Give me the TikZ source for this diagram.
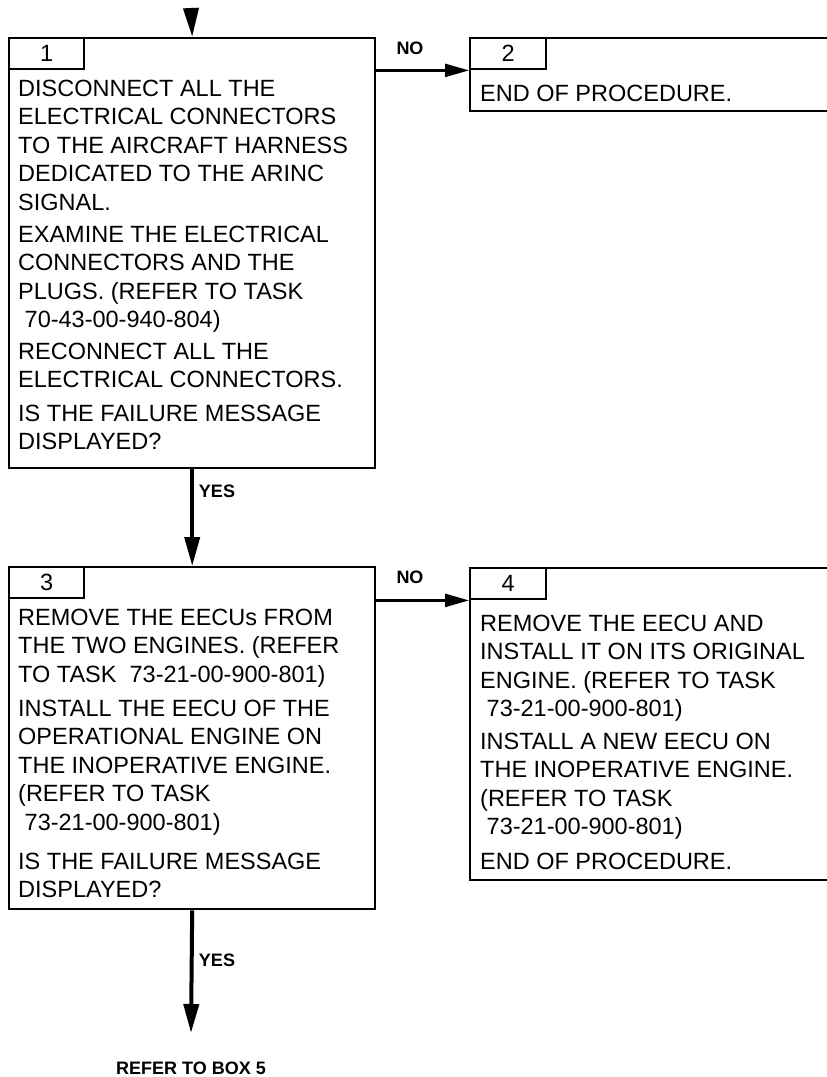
\documentclass[tikz,border=0pt]{standalone}
\usepackage{fontspec}
\setmainfont{Liberation Sans}
\usetikzlibrary{positioning,arrows.meta,calc}

\begin{document}
\begin{tikzpicture}[
  x=1pt, y=-1pt,
  box/.style={draw, line width=2.4pt, anchor=north west, inner sep=0pt},
  tabbox/.style={draw, line width=2.4pt, anchor=north west, inner sep=0pt,
                 minimum width=75pt, minimum height=31pt,
                 font=\fontsize{23.5}{28.5}\selectfont},
  txt/.style={anchor=north west, inner sep=0pt, align=left,
              font=\fontsize{23.5}{28.5}\selectfont},
  lbl/.style={inner sep=0pt, font=\fontsize{18}{20}\selectfont\bfseries},
  arr/.style={-{Triangle[length=29pt, width=15pt]}, line width=4pt},
  noarr/.style={-{Triangle[length=24pt, width=13pt]}, line width=2.4pt}
]
  \clip (0,0) rectangle (827,1077);

  % Box 1 -> Box 2
  \node[box, minimum width=366pt, minimum height=430pt] (box1) at (8,37) {};
  \node[tabbox] (tab1) at (box1.north west) {1};
  \node[txt] (txt1) at (18,79.8) {DISCONNECT ALL THE\\
    ELECTRICAL CONNECTORS\\
    TO THE AIRCRAFT HARNESS\\
    DEDICATED TO THE ARINC\\
    SIGNAL.\\[3.5pt]
    EXAMINE THE ELECTRICAL\\
    CONNECTORS AND THE\\
    PLUGS. (REFER TO TASK\\
    \hspace*{6.5pt}70-43-00-940-804)\\[3pt]
    RECONNECT ALL THE\\
    ELECTRICAL CONNECTORS.\\[5pt]
    IS THE FAILURE MESSAGE\\
    DISPLAYED?};

  \node[box, minimum width=400pt, minimum height=73pt] (box2) at (469,37) {};
  \node[tabbox, minimum width=76pt] (tab2) at (box2.north west) {2};
  \node[txt] (txt2) at (480,84.8) {END OF PROCEDURE.};

  \coordinate (start) at (191,8);
  \draw[arr] (start) -- (box1.north);
  \draw[noarr] (tab2.south west -| box1.east) -- (tab2.south west);
  \node[lbl] (no1) at (410,48) {NO};

  % Box 3 -> Box 4
  \node[box, minimum width=366pt, minimum height=342pt] (box3) at (8,566) {};
  \node[tabbox] (tab3) at (box3.north west) {3};
  \node[txt] (txt3) at (18,608.8) {REMOVE THE EECUs FROM\\
    THE TWO ENGINES. (REFER\\
    TO TASK\ \ 73-21-00-900-801)\\[5.5pt]
    INSTALL THE EECU OF THE\\
    OPERATIONAL ENGINE ON\\
    THE INOPERATIVE ENGINE.\\
    (REFER TO TASK\\
    \hspace*{6.5pt}73-21-00-900-801)\\[10.5pt]
    IS THE FAILURE MESSAGE\\
    DISPLAYED?};

  \node[box, minimum width=400pt, minimum height=312pt] (box4) at (469,567) {};
  \node[tabbox, minimum width=76pt] (tab4) at (box4.north west) {4};
  \node[txt] (txt4) at (480,614.8) {REMOVE THE EECU AND\\
    INSTALL IT ON ITS ORIGINAL\\
    ENGINE. (REFER TO TASK\\
    \hspace*{6.5pt}73-21-00-900-801)\\[4pt]
    INSTALL A NEW EECU ON\\
    THE INOPERATIVE ENGINE.\\
    (REFER TO TASK\\
    \hspace*{6.5pt}73-21-00-900-801)\\[6pt]
    END OF PROCEDURE.};

  \draw[arr] (box1.south) -- (box3.north);
  \node[lbl] (yes1) at (217,491) {YES};
  \draw[noarr] (tab4.south west -| box3.east) -- (tab4.south west);
  \node[lbl] (no2) at (410,577) {NO};

  % Exit
  \coordinate (exit) at (191,1033);
  \draw[arr] (box3.south) -- (exit);
  \node[lbl] (yes2) at (217,960) {YES};
  \node[lbl] (refer) at (191,1068) {REFER TO BOX 5};
\end{tikzpicture}
\end{document}
